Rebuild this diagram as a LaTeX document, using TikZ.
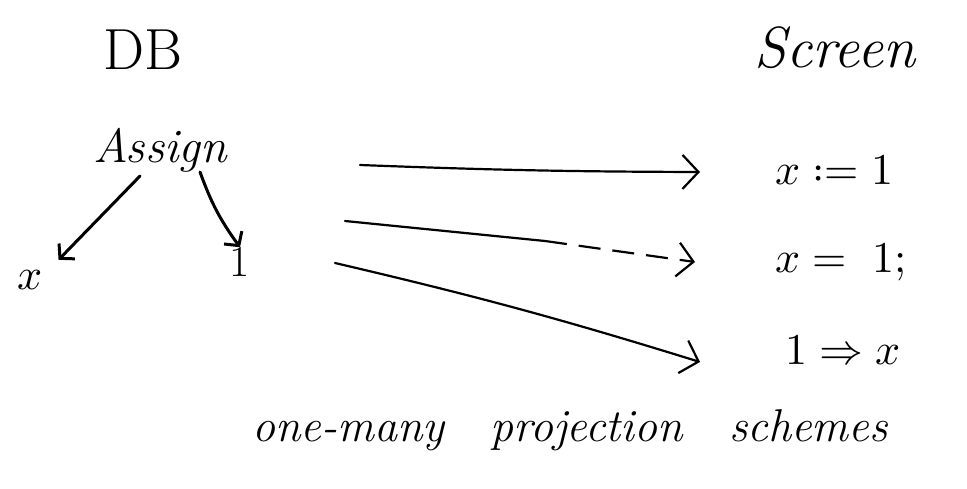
\documentclass[tikz,border=0pt]{standalone}
\usepackage{fontspec}
\usepackage{unicode-math}
\usetikzlibrary{arrows.meta}
\begin{document}
\begin{tikzpicture}[x=1pt,y=-1pt,
  title/.style={inner sep=0pt, font=\fontsize{58}{66}\selectfont},
  term/.style={inner sep=0pt, font=\fontsize{48}{56}\selectfont\itshape},
  proj/.style={inner sep=0pt, font=\fontsize{44}{52}\selectfont},
  caption/.style={inner sep=0pt, font=\fontsize{46}{54}\selectfont\itshape},
  tree/.style={line width=3pt, line cap=round, -{Straight Barb[length=10pt,width=22pt,line width=3pt]}},
  conn/.style={line width=2.2pt, line cap=round, -{Straight Barb[length=16pt,width=34pt,line width=2.2pt]}},
  connplain/.style={line width=2.2pt, line cap=round},
  conndash/.style={line width=2.2pt, dashed, dash pattern=on 22pt off 12pt, -{Straight Barb[length=16pt,width=34pt,line width=2.2pt]}}]
\useasboundingbox (0,0) rectangle (967,489);
\fill[white] (0,0) rectangle (967,489);

% headings
\node[title] (db) at (143,50) {DB};
\node[title, font=\fontsize{58}{66}\selectfont\itshape] (screen) at (835,48) {Screen};

% tree
\node[term] (assign) at (160,150) {Assign};
\node[proj] (x) at (30,280) {$x$};
\node[proj] (one) at (240,262) {1};
\draw[tree, shorten >=14pt] (140,176) -- ([xshift=6pt]x.north east);
\draw[tree] (200,172) to[bend right=8] (one.north);

% projections
\node[proj, anchor=west] (p1) at (775,170) {$x := 1$};
\node[proj, anchor=west] (p2) at (775,262) {$x =\ 1;$};
\node[proj, anchor=west] (p3) at (785,350) {$1 \Rightarrow x$};

\coordinate (s1) at (360,165);
\coordinate (s2) at (345,221);
\coordinate (m2) at (545,241);
\coordinate (s3) at (335,263);

\draw[conn] (s1) to[bend right=1] ([xshift=-75pt,yshift=-2pt]p1.west);
\draw[connplain] (s2) -- (m2);
\draw[conndash] (m2) -- ([xshift=-80pt]p2.west);
\draw[conn] (s3) to[bend left=2] ([xshift=-85pt,yshift=-12pt]p3.west);

% caption
\node[caption] (cap) at (570,430) {one-many\quad projection\quad schemes};
\end{tikzpicture}
\end{document}
